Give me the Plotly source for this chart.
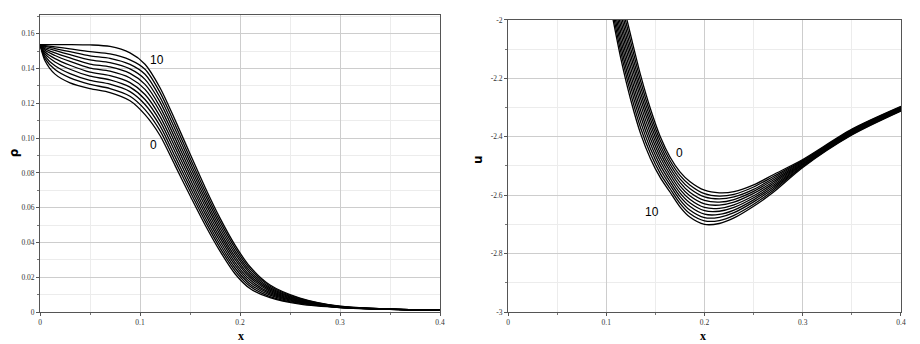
import plotly.graph_objects as go

# ---------------- data ----------------
X_RHO = [0, 0.005, 0.015, 0.03, 0.05, 0.07, 0.09, 0.105, 0.12, 0.135, 0.15,
         0.165, 0.18, 0.195, 0.21, 0.23, 0.26, 0.30, 0.35, 0.40]

RHO_0 = [0.1538, 0.1445, 0.1368, 0.1318, 0.1285, 0.1262, 0.1215, 0.1135, 0.1015, 0.0843, 0.0670, 0.0502, 0.0350, 0.0220, 0.0135, 0.0082, 0.0045, 0.0025, 0.0015, 0.0010]
RHO_1 = [0.1538, 0.1459, 0.1394, 0.1346, 0.1309, 0.1285, 0.1241, 0.1164, 0.1043, 0.0869, 0.0694, 0.0524, 0.0369, 0.0237, 0.0148, 0.0089, 0.0049, 0.0026, 0.0015, 0.0010]
RHO_2 = [0.1538, 0.1472, 0.1416, 0.1371, 0.1332, 0.1310, 0.1267, 0.1193, 0.1070, 0.0895, 0.0718, 0.0545, 0.0388, 0.0253, 0.0160, 0.0097, 0.0052, 0.0027, 0.0015, 0.0010]
RHO_3 = [0.1538, 0.1484, 0.1438, 0.1396, 0.1356, 0.1335, 0.1293, 0.1222, 0.1098, 0.0922, 0.0742, 0.0567, 0.0407, 0.0270, 0.0173, 0.0104, 0.0056, 0.0027, 0.0016, 0.0010]
RHO_4 = [0.1538, 0.1495, 0.1457, 0.1419, 0.1379, 0.1359, 0.1319, 0.1251, 0.1125, 0.0948, 0.0766, 0.0588, 0.0426, 0.0286, 0.0185, 0.0111, 0.0059, 0.0028, 0.0016, 0.0010]
RHO_5 = [0.1538, 0.1505, 0.1475, 0.1441, 0.1403, 0.1385, 0.1346, 0.1280, 0.1153, 0.0974, 0.0790, 0.0610, 0.0445, 0.0303, 0.0198, 0.0119, 0.0063, 0.0029, 0.0016, 0.0010]
RHO_6 = [0.1538, 0.1513, 0.1490, 0.1461, 0.1426, 0.1409, 0.1372, 0.1309, 0.1180, 0.1000, 0.0814, 0.0632, 0.0464, 0.0319, 0.0210, 0.0126, 0.0066, 0.0030, 0.0016, 0.0011]
RHO_7 = [0.1538, 0.1521, 0.1504, 0.1480, 0.1450, 0.1434, 0.1398, 0.1338, 0.1208, 0.1026, 0.0838, 0.0653, 0.0483, 0.0336, 0.0223, 0.0133, 0.0070, 0.0031, 0.0016, 0.0011]
RHO_8 = [0.1538, 0.1527, 0.1515, 0.1497, 0.1473, 0.1459, 0.1424, 0.1367, 0.1235, 0.1053, 0.0862, 0.0675, 0.0502, 0.0352, 0.0235, 0.0140, 0.0073, 0.0031, 0.0017, 0.0011]
RHO_9 = [0.1538, 0.1532, 0.1525, 0.1513, 0.1497, 0.1484, 0.1450, 0.1396, 0.1263, 0.1079, 0.0886, 0.0696, 0.0521, 0.0369, 0.0248, 0.0148, 0.0077, 0.0032, 0.0017, 0.0011]
RHO_10 = [0.1538, 0.1538, 0.1538, 0.1538, 0.1536, 0.1527, 0.1490, 0.1425, 0.1290, 0.1105, 0.0910, 0.0718, 0.0540, 0.0385, 0.0260, 0.0155, 0.0080, 0.0033, 0.0017, 0.0011]

X_U = [0.095, 0.105, 0.115, 0.125, 0.135, 0.145, 0.155, 0.165, 0.175, 0.185,
       0.20, 0.215, 0.23, 0.25, 0.27, 0.30, 0.35, 0.40]

U_0 = [-1.63, -1.77, -1.915, -2.055, -2.19, -2.305, -2.40, -2.47, -2.52, -2.553, -2.583, -2.592, -2.588, -2.565, -2.53, -2.478, -2.374, -2.296]
U_1 = [-1.645, -1.79, -1.937, -2.077, -2.21, -2.322, -2.414, -2.482, -2.532, -2.565, -2.595, -2.603, -2.597, -2.572, -2.536, -2.481, -2.376, -2.298]
U_2 = [-1.66, -1.809, -1.959, -2.099, -2.23, -2.339, -2.428, -2.494, -2.544, -2.577, -2.606, -2.613, -2.606, -2.580, -2.542, -2.483, -2.378, -2.299]
U_3 = [-1.675, -1.829, -1.981, -2.121, -2.25, -2.356, -2.442, -2.506, -2.556, -2.590, -2.618, -2.624, -2.615, -2.587, -2.548, -2.486, -2.380, -2.301]
U_4 = [-1.69, -1.848, -2.003, -2.143, -2.27, -2.373, -2.456, -2.518, -2.568, -2.602, -2.630, -2.634, -2.624, -2.594, -2.554, -2.489, -2.382, -2.302]
U_5 = [-1.705, -1.868, -2.025, -2.165, -2.29, -2.39, -2.47, -2.53, -2.58, -2.614, -2.642, -2.645, -2.633, -2.602, -2.56, -2.492, -2.384, -2.304]
U_6 = [-1.72, -1.887, -2.047, -2.187, -2.31, -2.407, -2.484, -2.542, -2.592, -2.626, -2.653, -2.655, -2.642, -2.609, -2.566, -2.494, -2.386, -2.306]
U_7 = [-1.735, -1.907, -2.069, -2.209, -2.33, -2.424, -2.498, -2.554, -2.604, -2.638, -2.665, -2.666, -2.651, -2.616, -2.572, -2.497, -2.388, -2.307]
U_8 = [-1.75, -1.926, -2.091, -2.231, -2.35, -2.441, -2.512, -2.566, -2.616, -2.651, -2.677, -2.676, -2.660, -2.623, -2.578, -2.500, -2.390, -2.309]
U_9 = [-1.765, -1.946, -2.113, -2.253, -2.37, -2.458, -2.526, -2.578, -2.628, -2.663, -2.688, -2.687, -2.669, -2.631, -2.584, -2.502, -2.392, -2.310]
U_10 = [-1.78, -1.965, -2.135, -2.275, -2.39, -2.475, -2.54, -2.59, -2.64, -2.675, -2.70, -2.697, -2.678, -2.638, -2.59, -2.505, -2.394, -2.312]

X_TICKS = [0, 0.1, 0.2, 0.3, 0.4]
X_TICK_LABELS = ["0", "0.1", "0.2", "0.3", "0.4"]
RHO_TICKS = [0, 0.02, 0.04, 0.06, 0.08, 0.10, 0.12, 0.14, 0.16]
RHO_TICK_LABELS = ["0", "0.02", "0.04", "0.06", "0.08", "0.10", "0.12", "0.14", "0.16"]
U_TICKS = [-3, -2.8, -2.6, -2.4, -2.2, -2]
U_TICK_LABELS = ["-3", "-2.8", "-2.6", "-2.4", "-2.2", "-2"]

RHO_CURVES = [RHO_0, RHO_1, RHO_2, RHO_3, RHO_4, RHO_5, RHO_6, RHO_7, RHO_8, RHO_9, RHO_10]
U_CURVES = [U_0, U_1, U_2, U_3, U_4, U_5, U_6, U_7, U_8, U_9, U_10]

# ---------------- figure ----------------
fig = go.Figure()
line_style = dict(color="black", width=1.3, shape="spline", smoothing=0.8)

for ys in RHO_CURVES:
    fig.add_trace(go.Scatter(x=X_RHO, y=ys, mode="lines", line=line_style,
                             xaxis="x", yaxis="y", showlegend=False, hoverinfo="skip"))
for ys in U_CURVES:
    fig.add_trace(go.Scatter(x=X_U, y=ys, mode="lines", line=line_style,
                             xaxis="x2", yaxis="y2", showlegend=False, hoverinfo="skip"))

tick_font = dict(family="Liberation Serif", size=7.5, color="#333")


def axis(rng, tickvals, ticktext, minor_dtick, domain):
    return dict(
        range=rng, domain=domain, tickvals=tickvals, ticktext=ticktext,
        showgrid=True, gridcolor="#cdcdcd", gridwidth=1,
        minor=dict(dtick=minor_dtick, showgrid=True, gridcolor="#ececec",
                   ticks="outside", ticklen=2, tickcolor="#777"),
        ticks="outside", ticklen=3, tickcolor="#555", tickwidth=1,
        showline=True, linecolor="#555", linewidth=1, mirror=True,
        zeroline=False, tickfont=tick_font, fixedrange=True,
    )


# page body has an 8px default margin, so the figure is sized to fit the window
fig.update_layout(
    width=912, height=336,
    margin=dict(l=32, r=19, t=3, b=32),
    paper_bgcolor="white", plot_bgcolor="white",
    xaxis=dict(axis([0, 0.4], X_TICKS, X_TICK_LABELS, 0.05, [0, 0.4646]), anchor="y"),
    yaxis=dict(axis([0, 0.1708], RHO_TICKS, RHO_TICK_LABELS, 0.01, [0, 1]), anchor="x"),
    xaxis2=dict(axis([0, 0.4], X_TICKS, X_TICK_LABELS, 0.05, [0.5436, 1]), anchor="y2"),
    yaxis2=dict(axis([-3, -2], U_TICKS, U_TICK_LABELS, 0.1, [0, 0.9834]), anchor="x2"),
)

ann = []
title_font_sans = dict(family="DejaVu Sans", size=12, color="black")
title_font_serif = dict(family="Liberation Serif", size=12, color="black")
common = dict(xref="paper", yref="paper", showarrow=False, xanchor="center", yanchor="middle")
ann.append(dict(text="<b>ρ</b>", x=-0.0302, y=0.538, textangle=-90, font=title_font_sans, **common))
ann.append(dict(text="<b>u</b>", x=0.5087, y=0.515, textangle=-90, font=title_font_sans, **common))
ann.append(dict(text="<b>x</b>", x=0.2334, y=-0.0797, font=title_font_serif, **common))
ann.append(dict(text="<b>x</b>", x=0.770, y=-0.0797, font=title_font_serif, **common))

label_font = dict(family="Liberation Sans", size=12, color="black")
lab = dict(showarrow=False, xanchor="center", yanchor="middle", font=label_font)
ann.append(dict(text="10", xref="x", yref="y", x=0.117, y=0.1452, **lab))
ann.append(dict(text="0", xref="x", yref="y", x=0.113, y=0.0959, **lab))
ann.append(dict(text="0", xref="x2", yref="y2", x=0.175, y=-2.456, **lab))
ann.append(dict(text="10", xref="x2", yref="y2", x=0.1466, y=-2.659, **lab))
fig.update_layout(annotations=ann)

fig.write_html("out.html")
